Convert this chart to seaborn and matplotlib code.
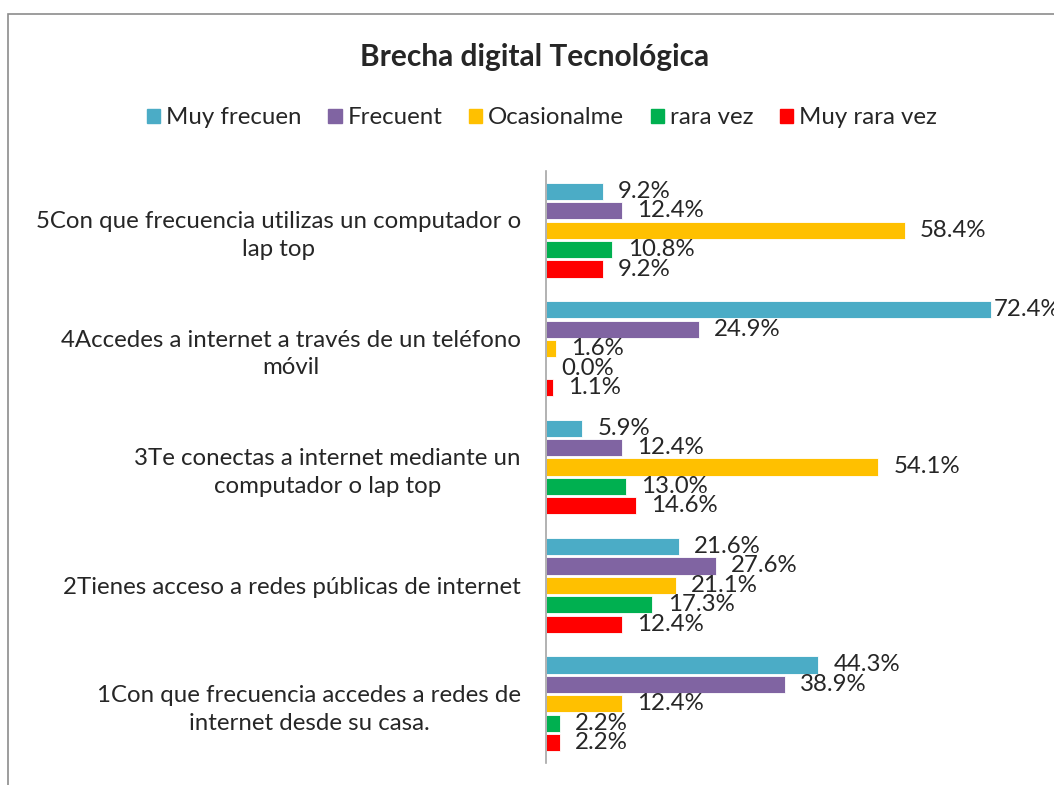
import matplotlib
matplotlib.use("Agg")
import matplotlib.pyplot as plt
import seaborn as sns
import pandas as pd
from matplotlib.patches import Rectangle

# data
categories = [
    "5Con que frecuencia utilizas un computador o\nlap top",
    "4Accedes a internet a través de un teléfono\nmóvil",
    "3Te conectas a internet mediante un\ncomputador o lap top",
    "2Tienes acceso a redes públicas de internet",
    "1Con que frecuencia accedes a redes de\ninternet desde su casa.",
]
series = ["Muy frecuen", "Frecuent", "Ocasionalme", "rara vez", "Muy rara vez"]
muy_frecuen = [9.2, 72.4, 5.9, 21.6, 44.3]
frecuent = [12.4, 24.9, 12.4, 27.6, 38.9]
ocasionalme = [58.4, 1.6, 54.1, 21.1, 12.4]
rara_vez = [10.8, 0.0, 13.0, 17.3, 2.2]
muy_rara_vez = [9.2, 1.1, 14.6, 12.4, 2.2]
colors = ["#4BACC6", "#8064A2", "#FFC000", "#00B050", "#FF0000"]

values = [muy_frecuen, frecuent, ocasionalme, rara_vez, muy_rara_vez]
rows = []
for s, vals in zip(series, values):
    for c, v in zip(categories, vals):
        rows.append({"pregunta": c, "serie": s, "valor": v})
df = pd.DataFrame(rows)

sns.set_style("white")
plt.rcParams["font.family"] = ["Lato", "DejaVu Sans"]
fs = 17.3

fig = plt.figure(figsize=(10.54, 7.85), dpi=100)
ax = fig.add_axes([546 / 1054, 1 - 763 / 785, 1 - 546 / 1054, 592 / 785])

sns.barplot(data=df, y="pregunta", x="valor", hue="serie", order=categories,
            hue_order=series, palette=colors, saturation=1, orient="h",
            width=0.82, gap=0.12, edgecolor="white", linewidth=0.6,
            legend=False, ax=ax)

for cont in ax.containers:
    texts = ax.bar_label(cont, fmt="%.1f%%", padding=11, fontsize=fs, clip_on=False)
    # the longest bar's label sits tight against the bar end, as in the original
    for t, v in zip(texts, cont.datavalues):
        if v > 70:
            t.xyann = (2, 0)

ax.set_xlim(0, 82.7)
ax.set_ylim(4.5, -0.5)
ax.set_xlabel("")
ax.set_ylabel("")
ax.set_xticks([])
for lbl in ax.get_yticklabels():
    lbl.set_multialignment("center")
    lbl.set_linespacing(1.4)
ax.tick_params(axis="y", length=0, pad=18, labelsize=fs)
for side in ["top", "right", "bottom"]:
    ax.spines[side].set_visible(False)
ax.spines["left"].set_color("#A6A6A6")
ax.spines["left"].set_linewidth(1.2)

# chart title and legend
fig.text(535 / 1054, 1 - 57 / 785, "Brecha digital Tecnológica", ha="center",
         va="center", fontsize=21.5, fontweight="bold")
handles = [Rectangle((0, 0), 1, 1, color=c) for c in colors]
fig.legend(handles, series, loc="center", bbox_to_anchor=(542 / 1054, 1 - 118 / 785),
           ncol=5, frameon=False, fontsize=fs, handlelength=0.55, handleheight=0.55,
           handletextpad=0.25, columnspacing=1.1)

# outer chart border (cropped on right and bottom)
fig.patches.append(Rectangle((8 / 1054, -0.1), 1.2, 1 - 14 / 785 + 0.1,
                             transform=fig.transFigure, fill=False,
                             edgecolor="#8C8C8C", linewidth=1.2))

fig.savefig("out.png", dpi=100)
